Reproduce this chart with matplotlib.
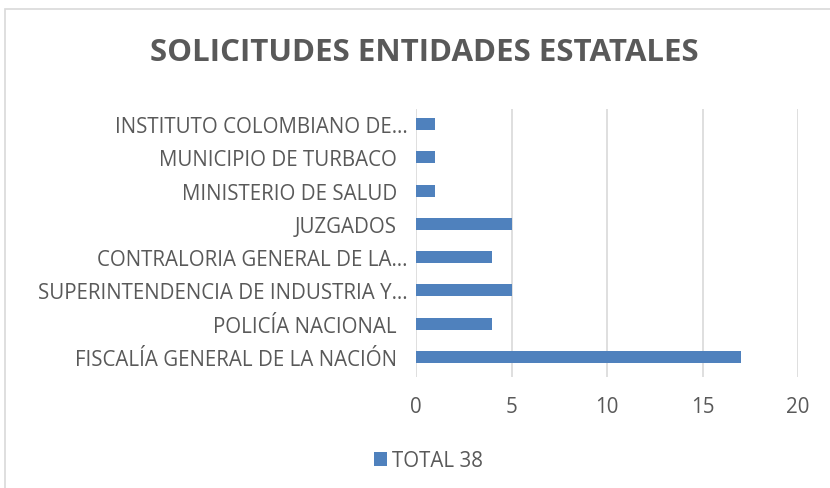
import matplotlib.pyplot as plt
from matplotlib.patches import Rectangle
import numpy as np

# Data (bottom to top)
entidades = ['FISCALÍA GENERAL DE LA NACIÓN  ', 'POLICÍA NACIONAL  ',
             'SUPERINTENDENCIA DE INDUSTRIA Y…', 'CONTRALORIA GENERAL DE LA…',
             'JUZGADOS  ', 'MINISTERIO DE SALUD  ', 'MUNICIPIO DE TURBACO  ',
             'INSTITUTO COLOMBIANO DE…']
solicitudes = [17, 4, 5, 4, 5, 1, 1, 1]
x_ticks = [0, 5, 10, 15, 20]
serie = 'TOTAL 38'

gris = '#595959'
azul = '#4F81BD'

plt.rcParams['font.family'] = ['Open Sans', 'DejaVu Sans']

fig = plt.figure(figsize=(8.3, 4.89), dpi=100)

# chart frame (light grey border, cut at right/bottom)
fig.patches.append(Rectangle((5 / 830, -0.1), 1.2, 1 - 10 / 489 + 0.1,
                             transform=fig.transFigure, fill=False,
                             edgecolor='#D9D9D9', linewidth=1.2))

ax = fig.add_axes([416 / 830, 1 - 378 / 489, (798 - 416) / 830, (378 - 110) / 489])
y = np.arange(len(entidades))
ax.barh(y, solicitudes, height=0.36, color=azul, label=serie, zorder=3)

ax.set_xlim(0, 20)
ax.set_ylim(-0.6, 7.45)
ax.set_xticks(x_ticks)
ax.set_yticks(y)
ax.set_yticklabels(entidades)
ax.grid(axis='x', color='#D9D9D9', linewidth=1.2, zorder=0)
for s in ax.spines.values():
    s.set_visible(False)
ax.tick_params(length=0, colors=gris, labelsize=14.8)
ax.tick_params(axis='x', pad=14)
ax.tick_params(axis='y', pad=6)

fig.text(0.511, 1 - 53 / 489, 'SOLICITUDES ENTIDADES ESTATALES', ha='center',
         va='center', fontsize=22.5, fontweight='bold', color=gris)

fig.legend(loc='center', bbox_to_anchor=(0.516, 1 - 462 / 489), frameon=False,
           fontsize=14.8, labelcolor=gris, handlelength=0.65, handleheight=0.65,
           handletextpad=0.25)

fig.savefig('out.png', dpi=100)
